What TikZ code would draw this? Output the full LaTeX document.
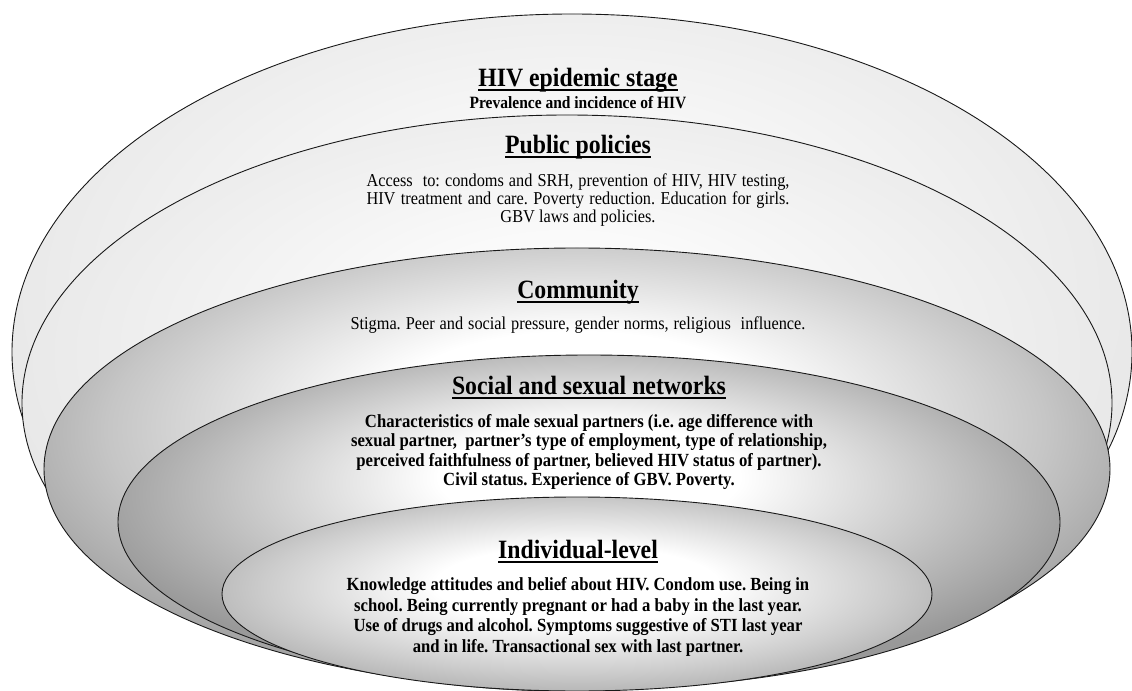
\documentclass[tikz,border=0pt]{standalone}
\usepackage{fontspec}
\setmainfont{Liberation Serif}[FakeStretch=0.9]
\frenchspacing
\newcommand{\tul}[1]{\setbox0=\hbox{#1}\rlap{\raisebox{-4.5bp}{\rule{\wd0}{2bp}}}\box0}
\pgfdeclareradialshading{lightfill}{\pgfpoint{0bp}{8bp}}{color(0bp)=(white); color(8bp)=(gray!4); color(26bp)=(gray!18); color(50bp)=(gray!20)}
\pgfdeclareradialshading{bowlA}{\pgfpoint{0bp}{8bp}}{color(0bp)=(white); color(9bp)=(white); color(22bp)=(gray!45); color(28bp)=(gray!72); color(50bp)=(gray!75)}
\pgfdeclareradialshading{bowlC}{\pgfpoint{0bp}{8bp}}{color(0bp)=(white); color(8bp)=(white); color(21bp)=(gray!55); color(27bp)=(gray!80); color(50bp)=(gray!82)}
\pgfdeclareradialshading{bowlB}{\pgfpoint{0bp}{3bp}}{color(0bp)=(white); color(10bp)=(white); color(22bp)=(gray!40); color(28bp)=(gray!62); color(50bp)=(gray!65)}
\tikzset{
  ring/.style={draw=black!90, line width=0.9bp},
  title/.style={inner sep=0pt, font=\fontsize{26.5}{30}\selectfont\bfseries},
  sub/.style={inner sep=0pt, font=\fontsize{17.3}{19}\selectfont\bfseries, align=center},
  body/.style={inner sep=0pt, font=\fontsize{18.2}{18.5}\selectfont, align=center},
  bodyb/.style={inner sep=0pt, font=\fontsize{18.6}{19.5}\selectfont\bfseries, align=center},
  bodybi/.style={bodyb, font=\fontsize{18.6}{20.5}\selectfont\bfseries},
}
\begin{document}
\begin{tikzpicture}[x=1bp,y=-1bp]
\fill[white] (0,0) rectangle (1132,691);
\useasboundingbox (0,0) rectangle (1132,691);
% nested ellipses
\path[ring, shade, shading=lightfill] (572,352) ellipse [x radius=560bp, y radius=338bp];
\path[ring, shade, shading=lightfill] (567,403) ellipse [x radius=545bp, y radius=288bp];
\path[ring, shade, shading=bowlA] (577,469) ellipse [x radius=533bp, y radius=221bp];
\path[ring, shade, shading=bowlC] (589,522) ellipse [x radius=471bp, y radius=167bp];
\path[ring, shade, shading=bowlB] (577,594) ellipse [x radius=355bp, y radius=97bp];
% texts
\node[title] (t1) at (578,80) {\tul{HIV epidemic stage}};
\node[sub] (p1) at (578,103) {Prevalence and incidence of HIV};
\node[title] (t2) at (578,147) {\tul{Public policies}};
\node[body] (b2) at (578,200) {\makebox[423bp][s]{Access\ \ to: condoms and SRH, prevention of HIV, HIV testing,}\\
\makebox[423bp][s]{HIV treatment and care. Poverty reduction. Education for girls.}\\
GBV laws and policies.};
\node[title] (t3) at (578,292) {\tul{Community}};
\node[body] (b3) at (578,325) {\makebox[455bp][s]{Stigma. Peer and social pressure, gender norms, religious\ \ influence.}};
\node[title] (t4) at (589,388) {\tul{Social and sexual networks}};
\node[bodyb] (b4) at (589,452) {Characteristics of male sexual partners (i.e. age difference with\\
sexual partner,\ \ partner’s type of employment, type of relationship,\\
perceived faithfulness of partner, believed HIV status of partner).\\
Civil status. Experience of GBV. Poverty.};
\node[title] (t5) at (578,552) {\tul{Individual-level}};
\node[bodybi] (b5) at (578,617) {Knowledge attitudes and belief about HIV. Condom use. Being in\\
school. Being currently pregnant or had a baby in the last year.\\
Use of drugs and alcohol. Symptoms suggestive of STI last year\\
and in life. Transactional sex with last partner.};
\end{tikzpicture}
\end{document}
